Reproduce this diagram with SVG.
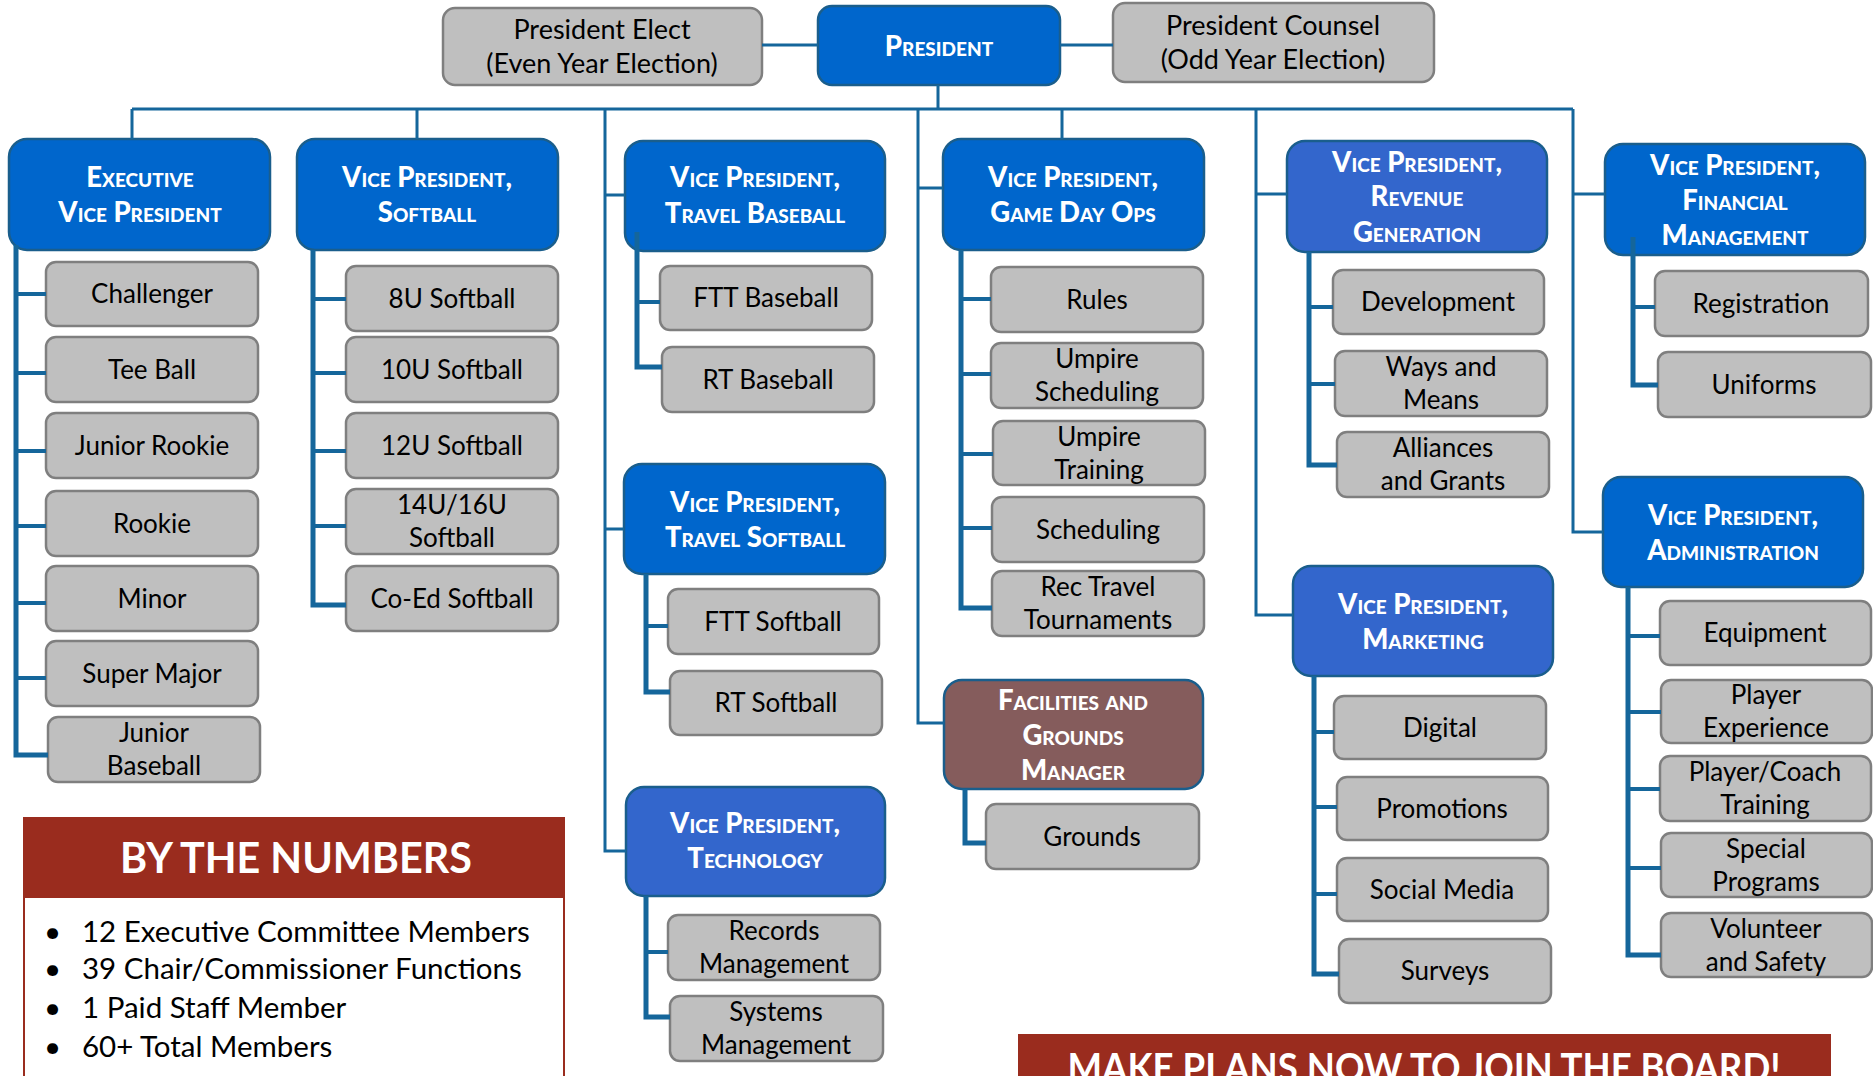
<svg xmlns="http://www.w3.org/2000/svg" width="1873" height="1076" viewBox="0 0 1873 1076">
<style>
.g{fill:#BFBFBF;stroke:#7F7F7F;stroke-width:2.5}
.b{fill:#0066CC;stroke:#1A5E8C;stroke-width:2.5}
.lb{fill:#3366CC;stroke:#1A5E8C;stroke-width:2.5}
.br{fill:#855C5C;stroke:#1A5E8C;stroke-width:2.5}
.t{font-family:Lato,"Open Sans","Liberation Sans",sans-serif;font-size:26px;fill:#000;text-anchor:middle}
.tt{font-family:Lato,"Open Sans","Liberation Sans",sans-serif;font-size:27px;fill:#000;text-anchor:middle}
.h{font-family:Lato,"Open Sans","Liberation Sans",sans-serif;font-size:27.5px;font-weight:900;fill:#fff;text-anchor:middle;font-variant:small-caps}
.c{fill:none;stroke:#15669B;stroke-width:3}
.k{fill:none;stroke:#15669B;stroke-width:5}
.kb{fill:none;stroke:#15669B;stroke-width:4}
.n{font-family:Lato,"Open Sans","Liberation Sans",sans-serif;font-size:29.5px;fill:#000}
</style>

<g id="president-elect"><rect class="g" x="443" y="8" width="319" height="77" rx="12"/><text class="tt"><tspan x="602" y="39">President Elect</tspan><tspan x="602" y="73">(Even Year Election)</tspan></text></g>
<g id="president"><rect class="b" x="818" y="6" width="242" height="79" rx="14"/><text class="h" x="939" y="56">President</text></g>
<g id="president-counsel"><rect class="g" x="1113" y="3" width="321" height="79" rx="12"/><text class="tt"><tspan x="1273" y="35">President Counsel</tspan><tspan x="1273" y="69">(Odd Year Election)</tspan></text></g>

<g id="evp"><rect class="b" x="9" y="139" width="261" height="111" rx="18"/><text class="h"><tspan x="140" y="187">Executive</tspan><tspan x="140" y="222">Vice President</tspan></text></g>
<g id="vp-softball"><rect class="b" x="297" y="139" width="261" height="111" rx="18"/><text class="h"><tspan x="427" y="187">Vice President,</tspan><tspan x="427" y="222">Softball</tspan></text></g>
<g id="vp-travel-baseball"><rect class="b" x="625" y="141" width="260" height="110" rx="18"/><text class="h"><tspan x="755" y="187">Vice President,</tspan><tspan x="755" y="223">Travel Baseball</tspan></text></g>
<g id="vp-game-day-ops"><rect class="b" x="943" y="139" width="261" height="111" rx="18"/><text class="h"><tspan x="1073" y="187">Vice President,</tspan><tspan x="1073" y="222">Game Day Ops</tspan></text></g>
<g id="vp-revenue"><rect class="lb" x="1287" y="141" width="260" height="111" rx="18"/><text class="h"><tspan x="1417" y="172">Vice President,</tspan><tspan x="1417" y="206">Revenue</tspan><tspan x="1417" y="242">Generation</tspan></text></g>
<g id="vp-financial"><rect class="b" x="1605" y="144" width="260" height="111" rx="18"/><text class="h"><tspan x="1735" y="175">Vice President,</tspan><tspan x="1735" y="210">Financial</tspan><tspan x="1735" y="245">Management</tspan></text></g>
<g id="vp-travel-softball"><rect class="b" x="624" y="464" width="261" height="110" rx="18"/><text class="h"><tspan x="755" y="512">Vice President,</tspan><tspan x="755" y="547">Travel Softball</tspan></text></g>
<g id="vp-technology"><rect class="lb" x="626" y="787" width="259" height="109" rx="18"/><text class="h"><tspan x="755" y="833">Vice President,</tspan><tspan x="755" y="868">Technology</tspan></text></g>
<g id="facilities"><rect class="br" x="944" y="680" width="259" height="109" rx="18"/><text class="h"><tspan x="1073" y="710">Facilities and</tspan><tspan x="1073" y="745">Grounds</tspan><tspan x="1073" y="780">Manager</tspan></text></g>
<g id="vp-marketing"><rect class="lb" x="1293" y="566" width="260" height="110" rx="18"/><text class="h"><tspan x="1423" y="614">Vice President,</tspan><tspan x="1423" y="649">Marketing</tspan></text></g>
<g id="vp-administration"><rect class="b" x="1603" y="477" width="260" height="110" rx="18"/><text class="h"><tspan x="1733" y="525">Vice President,</tspan><tspan x="1733" y="560">Administration</tspan></text></g>

<g id="challenger"><rect class="g" x="46" y="262" width="212" height="64" rx="10"/><text class="t" x="152" y="303">Challenger</text></g>
<g id="tee-ball"><rect class="g" x="46" y="337" width="212" height="65" rx="10"/><text class="t" x="152" y="379">Tee Ball</text></g>
<g id="junior-rookie"><rect class="g" x="46" y="413" width="212" height="65" rx="10"/><text class="t" x="152" y="455">Junior Rookie</text></g>
<g id="rookie"><rect class="g" x="46" y="491" width="212" height="65" rx="10"/><text class="t" x="152" y="533">Rookie</text></g>
<g id="minor"><rect class="g" x="46" y="566" width="212" height="65" rx="10"/><text class="t" x="152" y="608">Minor</text></g>
<g id="super-major"><rect class="g" x="46" y="641" width="212" height="65" rx="10"/><text class="t" x="152" y="683">Super Major</text></g>
<g id="junior-baseball"><rect class="g" x="48" y="717" width="212" height="65" rx="10"/><text class="t"><tspan x="154" y="742">Junior</tspan><tspan x="154" y="775">Baseball</tspan></text></g>

<g id="u8-softball"><rect class="g" x="346" y="266" width="212" height="65" rx="10"/><text class="t" x="452" y="308">8U Softball</text></g>
<g id="u10-softball"><rect class="g" x="346" y="337" width="212" height="65" rx="10"/><text class="t" x="452" y="379">10U Softball</text></g>
<g id="u12-softball"><rect class="g" x="346" y="413" width="212" height="65" rx="10"/><text class="t" x="452" y="455">12U Softball</text></g>
<g id="u14-16-softball"><rect class="g" x="346" y="489" width="212" height="65" rx="10"/><text class="t"><tspan x="452" y="514">14U/16U</tspan><tspan x="452" y="547">Softball</tspan></text></g>
<g id="coed-softball"><rect class="g" x="346" y="566" width="212" height="65" rx="10"/><text class="t" x="452" y="608">Co-Ed Softball</text></g>

<g id="ftt-baseball"><rect class="g" x="660" y="266" width="212" height="64" rx="10"/><text class="t" x="766" y="307">FTT Baseball</text></g>
<g id="rt-baseball"><rect class="g" x="662" y="347" width="212" height="65" rx="10"/><text class="t" x="768" y="389">RT Baseball</text></g>
<g id="ftt-softball"><rect class="g" x="668" y="589" width="211" height="65" rx="10"/><text class="t" x="773" y="631">FTT Softball</text></g>
<g id="rt-softball"><rect class="g" x="670" y="671" width="212" height="64" rx="10"/><text class="t" x="776" y="712">RT Softball</text></g>
<g id="records-management"><rect class="g" x="668" y="915" width="212" height="65" rx="10"/><text class="t"><tspan x="774" y="940">Records</tspan><tspan x="774" y="973">Management</tspan></text></g>
<g id="systems-management"><rect class="g" x="670" y="996" width="213" height="65" rx="10"/><text class="t"><tspan x="776" y="1021">Systems</tspan><tspan x="776" y="1054">Management</tspan></text></g>

<g id="rules"><rect class="g" x="991" y="267" width="212" height="65" rx="10"/><text class="t" x="1097" y="309">Rules</text></g>
<g id="umpire-scheduling"><rect class="g" x="991" y="343" width="212" height="65" rx="10"/><text class="t"><tspan x="1097" y="368">Umpire</tspan><tspan x="1097" y="401">Scheduling</tspan></text></g>
<g id="umpire-training"><rect class="g" x="993" y="421" width="212" height="64" rx="10"/><text class="t"><tspan x="1099" y="446">Umpire</tspan><tspan x="1099" y="479">Training</tspan></text></g>
<g id="scheduling"><rect class="g" x="992" y="497" width="212" height="65" rx="10"/><text class="t" x="1098" y="539">Scheduling</text></g>
<g id="rec-travel-tournaments"><rect class="g" x="992" y="571" width="212" height="65" rx="10"/><text class="t"><tspan x="1098" y="596">Rec Travel</tspan><tspan x="1098" y="629">Tournaments</tspan></text></g>
<g id="grounds"><rect class="g" x="986" y="804" width="213" height="65" rx="10"/><text class="t" x="1092" y="846">Grounds</text></g>

<g id="development"><rect class="g" x="1333" y="270" width="211" height="64" rx="10"/><text class="t" x="1438" y="311">Development</text></g>
<g id="ways-and-means"><rect class="g" x="1335" y="351" width="212" height="65" rx="10"/><text class="t"><tspan x="1441" y="376">Ways and</tspan><tspan x="1441" y="409">Means</tspan></text></g>
<g id="alliances-and-grants"><rect class="g" x="1337" y="432" width="212" height="65" rx="10"/><text class="t"><tspan x="1443" y="457">Alliances</tspan><tspan x="1443" y="490">and Grants</tspan></text></g>

<g id="registration"><rect class="g" x="1655" y="271" width="213" height="65" rx="10"/><text class="t" x="1761" y="313">Registration</text></g>
<g id="uniforms"><rect class="g" x="1658" y="352" width="213" height="65" rx="10"/><text class="t" x="1764" y="394">Uniforms</text></g>

<g id="digital"><rect class="g" x="1334" y="696" width="212" height="63" rx="10"/><text class="t" x="1440" y="737">Digital</text></g>
<g id="promotions"><rect class="g" x="1337" y="777" width="211" height="63" rx="10"/><text class="t" x="1442" y="818">Promotions</text></g>
<g id="social-media"><rect class="g" x="1337" y="858" width="211" height="63" rx="10"/><text class="t" x="1442" y="899">Social Media</text></g>
<g id="surveys"><rect class="g" x="1339" y="939" width="212" height="64" rx="10"/><text class="t" x="1445" y="980">Surveys</text></g>

<g id="equipment"><rect class="g" x="1660" y="601" width="211" height="64" rx="10"/><text class="t" x="1765" y="642">Equipment</text></g>
<g id="player-experience"><rect class="g" x="1661" y="680" width="211" height="63" rx="10"/><text class="t"><tspan x="1766" y="704">Player</tspan><tspan x="1766" y="737">Experience</tspan></text></g>
<g id="player-coach-training"><rect class="g" x="1660" y="756" width="211" height="65" rx="10"/><text class="t"><tspan x="1765" y="781">Player/Coach</tspan><tspan x="1765" y="814">Training</tspan></text></g>
<g id="special-programs"><rect class="g" x="1661" y="833" width="211" height="64" rx="10"/><text class="t"><tspan x="1766" y="858">Special</tspan><tspan x="1766" y="891">Programs</tspan></text></g>
<g id="volunteer-safety"><rect class="g" x="1661" y="913" width="211" height="64" rx="10"/><text class="t"><tspan x="1766" y="938">Volunteer</tspan><tspan x="1766" y="971">and Safety</tspan></text></g>

<g id="by-the-numbers">
<rect x="24" y="897" width="540" height="200" fill="#fff" stroke="#9A2C1E" stroke-width="2"/>
<rect x="23" y="817" width="542" height="80" fill="#9A2C1E"/>
<text x="296" y="873" font-family="Lato,'Open Sans','Liberation Sans',sans-serif" font-size="42" font-weight="bold" fill="#fff" text-anchor="middle" textLength="352" lengthAdjust="spacingAndGlyphs">BY THE NUMBERS</text>
<text class="n" x="44" y="942">•</text><text class="n" x="82" y="942">12 Executive Committee Members</text>
<text class="n" x="44" y="979">•</text><text class="n" x="82" y="979">39 Chair/Commissioner Functions</text>
<text class="n" x="44" y="1018">•</text><text class="n" x="82" y="1018">1 Paid Staff Member</text>
<text class="n" x="44" y="1057">•</text><text class="n" x="82" y="1057">60+ Total Members</text>
</g>
<g id="make-plans">
<rect x="1018" y="1034" width="813" height="60" fill="#9A2C1E"/>
<text x="1424" y="1082" font-family="Lato,'Open Sans','Liberation Sans',sans-serif" font-size="40" font-weight="bold" fill="#fff" text-anchor="middle" textLength="713" lengthAdjust="spacingAndGlyphs">MAKE PLANS NOW TO JOIN THE BOARD!</text>
</g>

<g id="connectors">
<path class="c" d="M762 45H818M1060 45H1113M938 85V109M132 109H1573M132 109V139M417 109V139M605 109V851H626M605 195H625M605 529H624M918 109V723H944M918 188H943M1062 109V139M1256 109V615H1293M1256 194H1287M1573 109V532H1603M1573 194H1605"/>
<path class="k" d="M16 245V755H48M313 250V605H346M637 232V367H662M961 250V608H992M646 574V692H670M646 896V1017H670M965 789V843H986M1309 252V465H1337M1633 237V385H1658M1314 676V974H1339M1628 587V955H1661"/>
<path class="kb" d="M16 294H46M16 373H46M16 451H46M16 526H46M16 603H46M16 678H46M313 299H346M313 373H346M313 451H346M313 526H346M637 302H660M961 299H991M961 374H991M961 454H993M961 528H992M646 626H668M646 952H668M1309 307H1333M1309 384H1335M1633 307H1655M1314 732H1334M1314 807H1337M1314 894H1337M1628 636H1660M1628 712H1661M1628 789H1660M1628 868H1661"/>
</g>
</svg>
